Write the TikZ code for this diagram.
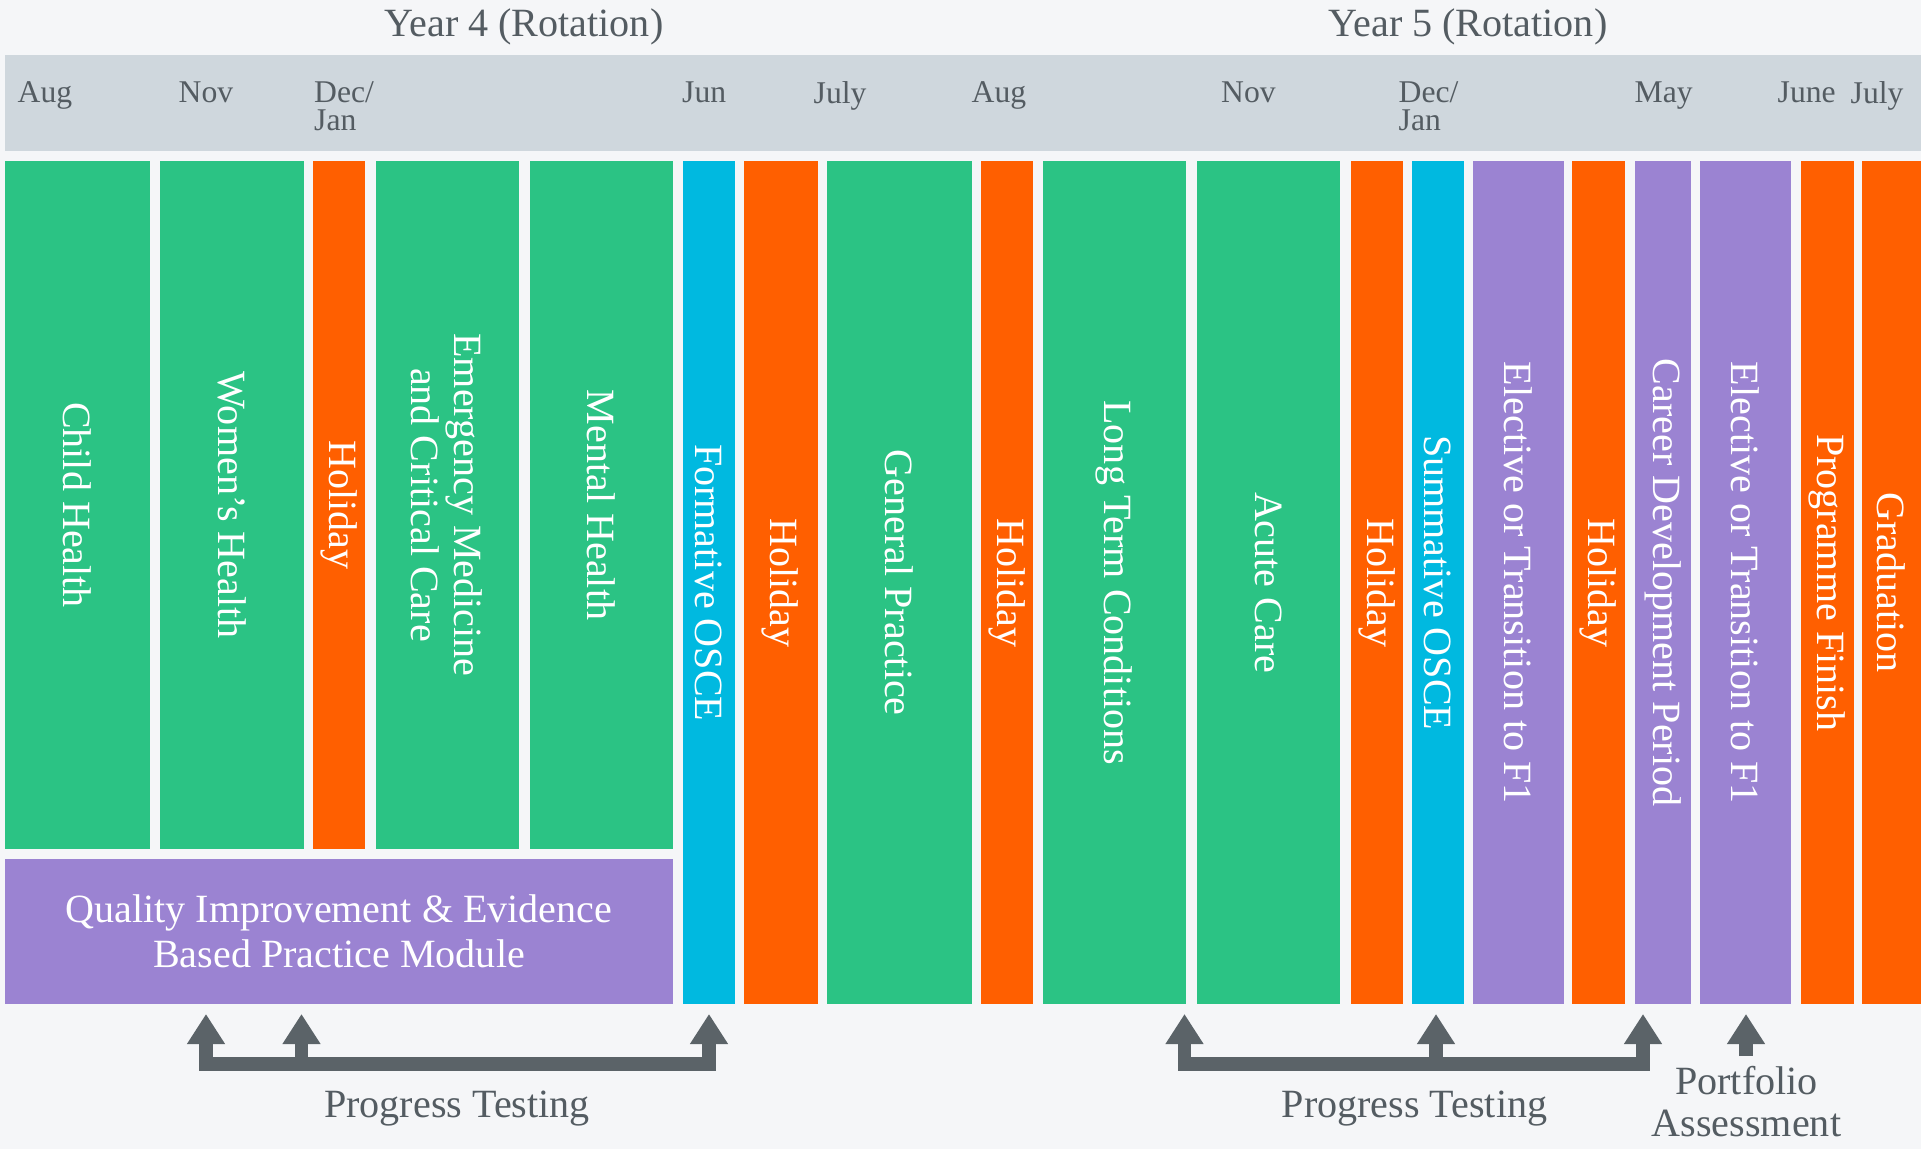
\documentclass[tikz,border=0pt]{standalone}
\usepackage{fontspec}
\setmainfont{Liberation Serif}
\usetikzlibrary{arrows.meta}
\definecolor{pagebg}{HTML}{F5F6F8}
\definecolor{monthband}{HTML}{CFD7DD}
\definecolor{rotgreen}{HTML}{2BC384}
\definecolor{holorange}{HTML}{FF5F00}
\definecolor{oscecyan}{HTML}{00B9E0}
\definecolor{modpurple}{HTML}{9B83D2}
\definecolor{arrowgrey}{HTML}{5B6368}
\definecolor{textgrey}{HTML}{545C62}

\begin{document}
\begin{tikzpicture}[x=0.01cm,y=-0.01cm,
	box/.style={fill=#1,inner sep=0pt,outer sep=0pt,text=white,align=center,font=\fontsize{11.4}{12.3}\selectfont},
	block/.style={box=#1,rotate=-90},
	month/.style={anchor=north west,inner sep=0pt,text=textgrey,align=left,font=\fontsize{9}{8}\selectfont},
	heading/.style={anchor=base,inner sep=0pt,text=textgrey,align=center,font=\fontsize{11.4}{11.7}\selectfont},
	bracket/.style={draw=arrowgrey,line width=0.135cm,line join=miter,>={Triangle[width=0.36cm,length=0.30cm]}}]
	\pgfmathsetmacro{\colTop}{161.5}
	\pgfmathsetmacro{\rowBot}{848.5}
	\pgfmathsetmacro{\colBot}{1004}
	\pgfmathsetmacro{\barY}{1064}

	% page and month band
	\fill[pagebg] (0,0) rectangle (1921,1149);
	\fill[monthband] (5,55) rectangle (1921,151);
	\node[heading] (yr4) at (524,37) {Year 4 (Rotation)};
	\node[heading] (yr5) at (1468,37) {Year 5 (Rotation)};
	\foreach \n/\x/\t in {aug4/17/Aug, nov4/178/Nov, jun4/681.5/Jun, jul4/813/July,
		aug5/971/Aug, nov5/1220.5/Nov, may5/1634/May, jun5/1777/June, jul5/1850/July} {
		\node[month] (\n) at (\x,81) {\t};
	}
	\node[month] (dec4) at (313.5,81) {Dec/\\Jan};
	\node[month] (dec5) at (1398,81) {Dec/\\Jan};

	% Year 4 top row
	\foreach \n/\l/\r/\c/\t in {ch/5/150/rotgreen/Child Health,
		wh/159.5/304/rotgreen/Women’s Health,
		hol1/313/365/holorange/Holiday,
		em/375.5/518.5/rotgreen/{Emergency Medicine\\and Critical Care},
		mh/529.5/673/rotgreen/Mental Health} {
		\node[block=\c,minimum width={(\rowBot-\colTop)*0.01cm},minimum height={(\r-\l)*0.01cm}]
			(\n) at ({(\l+\r)/2},{(\colTop+\rowBot)/2}) {\t};
	}
	\node[box=modpurple,minimum width=6.68cm,minimum height=1.45cm,font=\fontsize{11.4}{12.8}\selectfont]
		(qi) at (339,931.5) {Quality Improvement \& Evidence\\Based Practice Module};

	% full height columns
	\foreach \n/\l/\r/\c/\t in {fosce/683/735/oscecyan/Formative OSCE,
		hol2/743.5/817.5/holorange/Holiday,
		gp/826.5/971.5/rotgreen/General Practice,
		hol3/980.5/1033/holorange/Holiday,
		ltc/1042.5/1186/rotgreen/Long Term Conditions,
		ac/1197/1340/rotgreen/Acute Care,
		hol4/1350.5/1403/holorange/Holiday,
		sosce/1411.5/1464/oscecyan/Summative OSCE,
		el1/1472.5/1563.5/modpurple/Elective or Transition to F1,
		hol5/1572/1624.5/holorange/Holiday,
		cdp/1634.5/1691/modpurple/Career Development Period,
		el2/1700/1791/modpurple/Elective or Transition to F1,
		pf/1801/1854/holorange/Programme Finish,
		grad/1862/1921/holorange/Graduation} {
		\node[block=\c,minimum width={(\colBot-\colTop)*0.01cm},minimum height={(\r-\l)*0.01cm}]
			(\n) at ({(\l+\r)/2},{(\colTop+\colBot)/2}) {\t};
	}

	% progress testing brackets
	\coordinate (barL) at (0,\barY);
	\coordinate (t1) at (206,1014);
	\coordinate (t2) at (301.5,1014);
	\coordinate (t3) at (709,1014);
	\coordinate (t4) at (1184.5,1014);
	\coordinate (t5) at (1436,1014);
	\coordinate (t6) at (1643,1014);
	\coordinate (t7) at (1746,1014);
	\draw[bracket,<->] (t1) -- (t1 |- barL) -- (t3 |- barL) -- (t3);
	\draw[bracket,->] (t2 |- barL) -- (t2);
	\draw[bracket,<->] (t4) -- (t4 |- barL) -- (t6 |- barL) -- (t6);
	\draw[bracket,->] (t5 |- barL) -- (t5);
	\draw[bracket,->] (1746,1056) -- (t7);
	\node[heading] (pt4) at (457,1117) {Progress Testing};
	\node[heading] (pt5) at (1414.5,1117) {Progress Testing};
	\node[heading] (pa) at (1746.5,1136) {Portfolio\\Assessment};
\end{tikzpicture}
\end{document}
